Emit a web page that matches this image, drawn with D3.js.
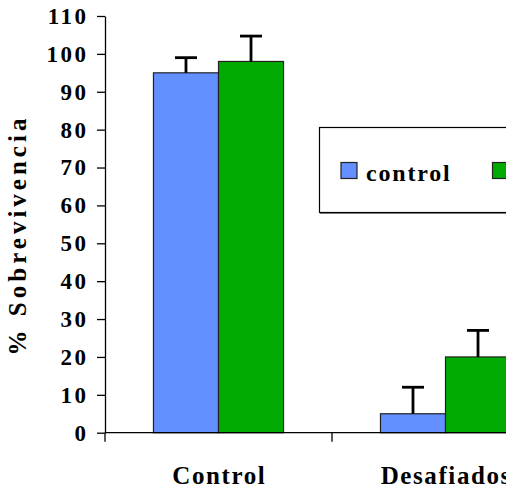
<!DOCTYPE html>
<html>
<head>
<meta charset="utf-8">
<script src="https://cdn.jsdelivr.net/npm/d3@7"></script>
<style>
  body { margin: 0; background: #fff; }
  svg { display: block; }
</style>
</head>
<body>
<div id="chart"></div>
<script>
// data
var categories = ["Control", "Desafiados"];
var series = ["control", "tratado"];
var means = [[95, 98], [5, 20]];       // [category][series]
var errors = [[4, 6.7], [7, 7]];       // upper error bars only
var yTicks = [0, 10, 20, 30, 40, 50, 60, 70, 80, 90, 100, 110];
var colors = ["#638fff", "#00aa00"];

var width = 506, height = 489;
var FONT = "Liberation Serif, Times New Roman, serif";

// widen text by a fixed gap between letters, using textLength
function spaced(sel, gap) {
    sel.each(function () {
        var n = this.textContent.length;
        var w = this.getComputedTextLength();
        if (n > 1) {
            d3.select(this)
                .attr("textLength", w + gap * (n - 1))
                .attr("lengthAdjust", "spacing");
        }
    });
}

var svg = d3.select("#chart")
    .append("svg")
    .attr("width", width)
    .attr("height", height);

var y = d3.scaleLinear()
    .domain([0, 110])
    .range([432.7, 16]);

// plot area runs past the right edge of the picture
var x0 = d3.scaleBand()
    .domain(categories)
    .range([105, 559]);

var groupW = x0.bandwidth() * 0.573;
var x1 = d3.scaleBand()
    .domain(series)
    .range([0, groupW]);

// y axis
var yAxis = svg.append("g")
    .attr("transform", "translate(105,0)")
    .call(d3.axisLeft(y).tickValues(yTicks).tickSize(8).tickSizeOuter(0).tickPadding(11));
yAxis.attr("font-family", FONT).attr("font-size", 23).attr("font-weight", "bold");
yAxis.select(".domain").attr("stroke", "#000").attr("stroke-width", 1.3);
yAxis.selectAll(".tick line").attr("stroke", "#000").attr("stroke-width", 1.3);
yAxis.selectAll(".tick text").attr("fill", "#000").call(spaced, 2.5);

// bars
var groups = svg.selectAll(".grp")
    .data(categories)
    .enter()
    .append("g")
    .attr("class", "grp")
    .attr("transform", function (d) {
        return "translate(" + (x0(d) + (x0.bandwidth() - groupW) / 2) + ",0)";
    });

groups.selectAll("rect")
    .data(function (d, i) {
        return series.map(function (s, j) {
            return { s: s, j: j, v: means[i][j], e: errors[i][j] };
        });
    })
    .enter()
    .append("rect")
    .attr("x", function (d) { return x1(d.s); })
    .attr("y", function (d) { return y(d.v); })
    .attr("width", x1.bandwidth())
    .attr("height", function (d) { return y(0) - y(d.v); })
    .attr("fill", function (d) { return colors[d.j]; })
    .attr("stroke", "#222")
    .attr("stroke-width", 1.2);

// error bars
var err = groups.selectAll(".err")
    .data(function (d, i) {
        return series.map(function (s, j) {
            return { s: s, v: means[i][j], e: errors[i][j] };
        });
    })
    .enter()
    .append("g")
    .attr("class", "err")
    .attr("stroke", "#000")
    .attr("stroke-width", 2.8);

err.append("line")
    .attr("x1", function (d) { return x1(d.s) + x1.bandwidth() / 2; })
    .attr("x2", function (d) { return x1(d.s) + x1.bandwidth() / 2; })
    .attr("y1", function (d) { return y(d.v); })
    .attr("y2", function (d) { return y(d.v + d.e); });

err.append("line")
    .attr("x1", function (d) { return x1(d.s) + x1.bandwidth() / 2 - 11; })
    .attr("x2", function (d) { return x1(d.s) + x1.bandwidth() / 2 + 11; })
    .attr("y1", function (d) { return y(d.v + d.e); })
    .attr("y2", function (d) { return y(d.v + d.e); });

// x axis with ticks on the band edges
var xEdges = categories.map(function (c) { return x0(c); }).concat([x0.range()[1]]);
svg.append("line")
    .attr("x1", 105).attr("x2", x0.range()[1])
    .attr("y1", y(0)).attr("y2", y(0))
    .attr("stroke", "#000").attr("stroke-width", 1.3);
svg.selectAll(".xtick")
    .data(xEdges)
    .enter()
    .append("line")
    .attr("x1", function (d) { return d; })
    .attr("x2", function (d) { return d; })
    .attr("y1", y(0))
    .attr("y2", y(0) + 9)
    .attr("stroke", "#000").attr("stroke-width", 1.3);

svg.selectAll(".xlab")
    .data(categories)
    .enter()
    .append("text")
    .attr("x", function (d) { return x0(d) + x0.bandwidth() / 2; })
    .attr("y", 484)
    .attr("text-anchor", "middle")
    .attr("font-family", FONT)
    .attr("font-weight", "bold")
    .attr("font-size", 25)
    .text(function (d) { return d; })
    .call(spaced, 1.6);

// y axis title
svg.append("text")
    .attr("transform", "translate(26,237) rotate(-90)")
    .attr("text-anchor", "middle")
    .attr("font-family", FONT)
    .attr("font-weight", "bold")
    .attr("font-size", 25)
    .text("% Sobrevivencia")
    .call(spaced, 4);

// legend (box runs off the right edge)
var legend = svg.append("g");
legend.append("rect")
    .attr("x", 319.5).attr("y", 127.5)
    .attr("width", 300).attr("height", 85)
    .attr("fill", "#fff")
    .attr("stroke", "#000")
    .attr("stroke-width", 1.2);
legend.append("line")
    .attr("x1", 320).attr("x2", 620)
    .attr("y1", 213.5).attr("y2", 213.5)
    .attr("stroke", "#777").attr("stroke-width", 1.2);

var items = legend.selectAll(".item")
    .data(series)
    .enter()
    .append("g")
    .attr("transform", function (d, i) { return "translate(" + (341 + i * 151.5) + ",162.5)"; });
items.append("rect")
    .attr("width", 16).attr("height", 16)
    .attr("fill", function (d, i) { return colors[i]; })
    .attr("stroke", "#222").attr("stroke-width", 1.2);
items.append("text")
    .attr("x", 25)
    .attr("y", 18)
    .attr("font-family", FONT)
    .attr("font-weight", "bold")
    .attr("font-size", 24)
    .text(function (d) { return d; })
    .call(spaced, 1.8);
</script>
</body>
</html>
